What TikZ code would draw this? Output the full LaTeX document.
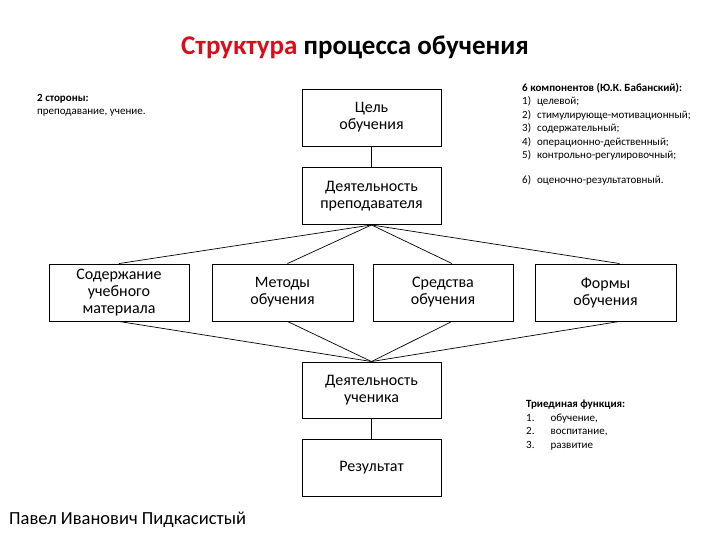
\documentclass[tikz,border=0pt]{standalone}
\usepackage{fontspec}
\setmainfont{Carlito}
\begin{document}
\begin{tikzpicture}[x=1pt,y=-1pt,
  bx/.style={draw,line width=0.9pt,minimum width=139pt,minimum height=57pt,align=center,font=\fontsize{16}{17}\selectfont,inner sep=2pt},
  ln/.style={draw,line width=0.7pt},
  sm/.style={font=\fontsize{11}{13.5}\selectfont,align=left,anchor=north west,inner sep=0pt}]
\useasboundingbox (0,0) rectangle (720,540);
\node (title) at (355,47) {\fontsize{27}{30}\selectfont\bfseries\textcolor[rgb]{0.85,0.05,0.1}{Структура} процесса обучения};
\node[bx] (goal) at (371.5,117.5) {Цель\\обучения};
\node[bx] (teach) at (371.5,196) {Деятельность\\преподавателя};
\node[bx,minimum width=140pt] (b1) at (119,292.5) {Содержание\\учебного\\материала};
\node[bx,minimum width=141pt] (b2) at (282.5,292.5) {Методы\\обучения};
\node[bx,minimum width=140pt] (b3) at (443,292.5) {Средства\\обучения};
\node[bx,minimum width=141pt] (b4) at (605.5,292.5) {Формы\\обучения};
\node[bx,minimum height=56pt] (stud) at (371.5,390) {Деятельность\\ученика};
\node[bx,minimum height=57pt] (res) at (371.5,467.5) {Результат};
\draw[ln] (goal) -- (teach);
\draw[ln] (stud) -- (res);
\foreach \b/\s in {b1/0,b2/5,b3/9,b4/14}{
  \draw[ln] (teach.south) -- ([xshift=\s pt]\b.north);
  \draw[ln] ([xshift=\s pt]\b.south) -- (stud.north);
}
\node[sm] (sides) at (37,94) {\textbf{2 стороны:}\\преподавание, учение.};
\node[sm] (comp) at (522,83) {\textbf{6 компонентов (Ю.К. Бабанский):}\\
1)\hspace{6pt}целевой;\\2)\hspace{6pt}стимулирующе-мотивационный;\\3)\hspace{6pt}содержательный;\\4)\hspace{6pt}операционно-действенный;\\5)\hspace{6pt}контрольно-регулировочный;};
\node[sm] (comp6) at (522,175) {6)\hspace{6pt}оценочно-результатовный.};
\node[sm] (tri) at (526,400) {\textbf{Триединая функция:}\\1.\hspace{16pt}обучение,\\2.\hspace{16pt}воспитание,\\3.\hspace{16pt}развитие};
\node[anchor=west,inner sep=0pt,font=\fontsize{18.5}{20}\selectfont] (author) at (9,520) {Павел Иванович Пидкасистый};
\end{tikzpicture}
\end{document}
